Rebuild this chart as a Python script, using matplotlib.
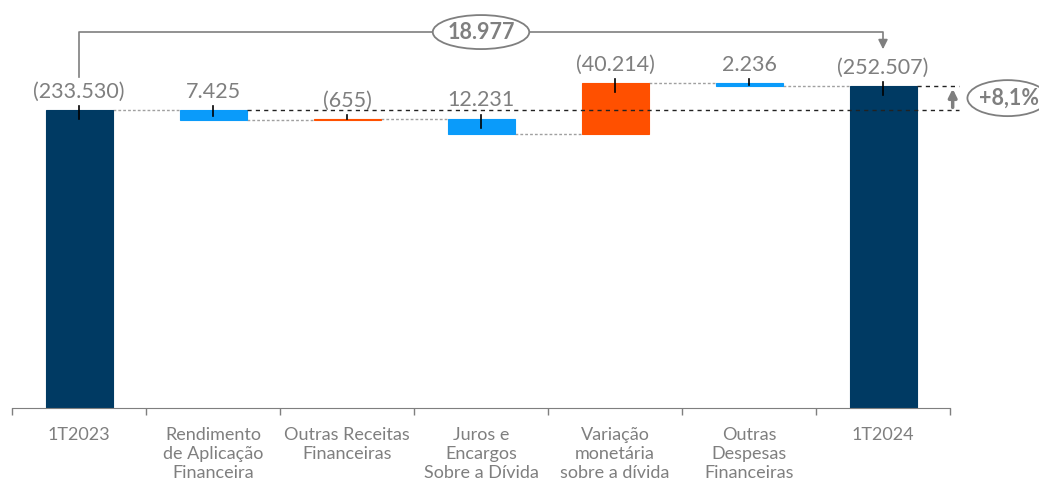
import matplotlib
matplotlib.use("Agg")
import matplotlib.pyplot as plt
from matplotlib.patches import Ellipse

plt.rcParams['font.family'] = ['Lato', 'DejaVu Sans']

categories = ['1T2023', 'Rendimento\nde Aplicação\nFinanceira', 'Outras Receitas\nFinanceiras',
              'Juros e\nEncargos\nSobre a Dívida', 'Variação\nmonetária\nsobre a dívida',
              'Outras\nDespesas\nFinanceiras', '1T2024']
values = [233530, -7425, 655, -12231, 40214, -2236, 252507]
value_labels = ['(233.530)', '7.425', '(655)', '12.231', '(40.214)', '2.236', '(252.507)']
is_total = [True, False, False, False, False, False, True]
variation_label = '18.977'
pct_label = '+8,1%'

navy = '#003A63'
blue = '#0A9BFA'
orange = '#FF5000'
grey = '#7F7F7F'

fig = plt.figure(figsize=(10.39, 4.87), dpi=100)
ax = fig.add_axes([12 / 1039, 79 / 487, 938 / 1039, 408 / 487])

px = 252507 / 322  # data units per pixel (vertical)

bottoms, tops, colors = [], [], []
running = 0
for v, tot in zip(values, is_total):
    if tot:
        bottoms.append(0)
        tops.append(v)
        colors.append(navy)
        running = v
    else:
        new = running + v
        bottoms.append(min(running, new))
        tops.append(max(running, new))
        colors.append(orange if v > 0 else blue)
        running = new

x = list(range(len(categories)))
heights = [t - b for t, b in zip(tops, bottoms)]
ax.bar(x, heights, bottom=bottoms, width=0.5, color=colors, edgecolor=colors,
       linewidth=0.8, zorder=2)

# connectors
running = 0
levels = []
for v, tot in zip(values, is_total):
    running = v if tot else running + v
    levels.append(running)
for i in range(len(x) - 1):
    ax.plot([i + 0.25, i + 0.75], [levels[i], levels[i]], color='#A0A0A0',
            lw=1, ls=(0, (2, 1.5)), zorder=1)

# black dashed reference lines
ax.plot([1.25, 6.57], [levels[0]] * 2, color='#222222', lw=1, ls=(0, (3, 3)),
        zorder=4, clip_on=False)
ax.plot([6.25, 6.57], [levels[-1]] * 2, color='#222222', lw=1, ls=(0, (3, 3)),
        zorder=4, clip_on=False)

# value labels and small ticks
for i in x:
    ax.annotate(value_labels[i], (i, tops[i]), xytext=(0, 6), textcoords='offset points',
                ha='center', va='bottom', fontsize=15.5, color=grey)
    down = min(9 * px, 0.6 * heights[i])
    ax.plot([i, i], [tops[i] - down, tops[i] + 4 * px], color='black', lw=1.2, zorder=5)

# top bracket
yb = 294800
ax.plot([0, 0, 6, 6], [tops[0] + 33 * px, yb, yb, yb - 10 * px], color=grey, lw=1.2,
        clip_on=False, zorder=3)
ax.annotate('', xy=(6, tops[-1] + 34 * px), xytext=(6, yb - 9 * px),
            arrowprops=dict(arrowstyle='-|>', color=grey, lw=1.2, mutation_scale=14),
            annotation_clip=False)
ax.add_patch(Ellipse((3.0, yb), 0.72, 34 * px, facecolor='white', edgecolor=grey,
                     lw=1.3, zorder=6, clip_on=False))
ax.text(3.0, yb, variation_label, ha='center', va='center', fontsize=15.5,
        fontweight='bold', color=grey, zorder=7)

# growth arrow and percent
ax.annotate('', xy=(6.52, levels[-1]), xytext=(6.52, levels[0]),
            arrowprops=dict(arrowstyle='-|>', color=grey, lw=2.5, mutation_scale=12),
            annotation_clip=False)
ax.add_patch(Ellipse((6.93, 243000), 0.6, 36 * px, facecolor='white', edgecolor=grey,
                     lw=1.3, zorder=6, clip_on=False))
ax.text(6.94, 243000, pct_label, ha='center', va='center', fontsize=15.5,
        fontweight='bold', color=grey, zorder=7, clip_on=False)

ax.set_xlim(-0.5, 6.5)
ax.set_ylim(0, 408 * px)
ax.set_xticks(x)
ax.set_xticklabels(categories, fontsize=13, color=grey, linespacing=1.2)
ax.tick_params(axis='x', which='major', length=0, pad=14)
ax.set_xticks([i - 0.5 for i in range(len(x) + 1)], minor=True)
ax.tick_params(axis='x', which='minor', length=5, color=grey, width=1)
ax.set_yticks([])
for s in ['top', 'right', 'left']:
    ax.spines[s].set_visible(False)
ax.spines['bottom'].set_color(grey)

fig.savefig('out.png', dpi=100)
